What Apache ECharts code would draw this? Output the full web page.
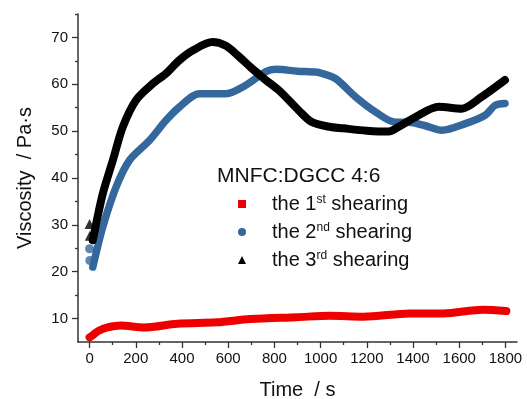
<!doctype html>
<html>
<head>
<meta charset="utf-8">
<script src="https://cdn.jsdelivr.net/npm/echarts@6/dist/echarts.min.js"></script>
<style>
    html, body { margin: 0; padding: 0; background: #fff; }
    #chart { width: 527px; height: 399px; }
</style>
</head>
<body>
<div id="chart"></div>
<script>
// tick labels
var xTicks = [0, 200, 400, 600, 800, 1000, 1200, 1400, 1600, 1800];
var xMinorTicks = [100, 300, 500, 700, 900, 1100, 1300, 1500, 1700];
var yTicks = [10, 20, 30, 40, 50, 60, 70];
var yMinorTicks = [15, 25, 35, 45, 55, 65, 75];

var seriesNames = ['the 1st shearing', 'the 2nd shearing', 'the 3rd shearing'];

// 1st shearing (red)
var t1 = [0, 15, 40, 78, 135, 236, 380, 552, 696, 898, 1041, 1186, 1387, 1531, 1703, 1804];
var v1 = [6.0, 6.5, 7.4, 8.1, 8.5, 8.1, 8.9, 9.2, 9.9, 10.3, 10.6, 10.4, 11.1, 11.1, 11.9, 11.6];

// 2nd shearing (blue)
var t2 = [14, 57, 115, 173, 259, 331, 388, 475, 590, 676, 763, 806, 900, 978, 1007, 1065, 1151, 1237, 1324, 1381, 1450, 1525, 1626, 1712, 1755, 1798];
var v2 = [21, 29.5, 38.1, 43.8, 48, 52.3, 55.1, 58.0, 58.0, 59.8, 62.7, 63.2, 62.8, 62.6, 62.3, 61.2, 57.3, 54.1, 51.9, 51.9, 51.2, 50.2, 51.6, 53.4, 55.5, 55.9];
var t2Start = [0, 1];
var v2Start = [24.9, 22.4];

// 3rd shearing (black)
var t3 = [14, 57, 101, 144, 201, 273, 331, 388, 450, 532, 590, 647, 700, 763, 820, 906, 960, 1030, 1100, 1200, 1295, 1340, 1410, 1511, 1611, 1697, 1798];
var v3 = [26.7, 36.6, 43.8, 50.9, 56.6, 60.1, 62.3, 65.1, 67.3, 69.0, 68.2, 65.9, 63.5, 60.9, 58.7, 54.4, 52.0, 51.0, 50.6, 50.1, 49.9, 51.0, 53.0, 55.2, 54.8, 57.3, 60.9];
var t3Start = [0, 1];
var v3Start = [30.2, 27.7];

var colors = ['#ee0000', '#34689c', '#000000'];

function pairs(t, v) {
    var out = [];
    for (var i = 0; i < t.length; i++) out.push([t[i], v[i]]);
    return out;
}

var myChart = echarts.init(document.getElementById('chart'));
var font = 'Liberation Sans, Arial, sans-serif';
var axisColor = '#333';

function xAxisCfg(ticks, len, main) {
    return {
        type: 'value', min: -50, max: 1850, position: 'bottom',
        name: main ? 'Time  / s' : '',
        nameLocation: 'middle', nameGap: 38,
        nameTextStyle: { fontFamily: font, fontSize: 20, color: '#111' },
        axisLine: { show: main, onZero: false, lineStyle: { color: axisColor, width: 1.5 } },
        axisTick: { show: true, customValues: ticks, length: len, lineStyle: { color: axisColor, width: 1.3 } },
        axisLabel: {
            show: main, customValues: ticks, margin: 9, fontFamily: font, fontSize: 15, color: '#111',
            formatter: function (v) { return String(v); }
        },
        splitLine: { show: false }
    };
}
function yAxisCfg(ticks, len, main) {
    return {
        type: 'value', min: 5, max: 75, position: 'left',
        name: main ? 'Viscosity  / Pa·s' : '',
        nameLocation: 'middle', nameGap: 43,
        nameTextStyle: { fontFamily: font, fontSize: 20, color: '#111' },
        axisLine: { show: main, onZero: false, lineStyle: { color: axisColor, width: 1.5 } },
        axisTick: { show: true, customValues: ticks, length: len, lineStyle: { color: axisColor, width: 1.3 } },
        axisLabel: { show: main, customValues: ticks, margin: 10, fontFamily: font, fontSize: 15, color: '#111' },
        splitLine: { show: false }
    };
}

var option = {
    animation: false,
    title: {
        text: 'MNFC:DGCC 4:6', left: 217, top: 166, padding: 0,
        textStyle: { fontFamily: font, fontSize: 21, fontWeight: 'normal', color: '#111' }
    },
    legend: {
        orient: 'vertical', left: 238, top: 194, padding: 0, itemGap: 8,
        itemWidth: 8, itemHeight: 8,
        data: [
            { name: seriesNames[0], icon: 'rect' },
            { name: seriesNames[1], icon: 'circle' },
            { name: seriesNames[2], icon: 'triangle' }
        ],
        formatter: function (name) {
            return name.replace(/(\d)(st|nd|rd)/, '$1{sup|$2}');
        },
        textStyle: {
            fontFamily: font, fontSize: 20, color: '#111', padding: [0, 0, 0, 21],
            rich: { sup: { fontFamily: font, fontSize: 12, verticalAlign: 'top', color: '#111' } }
        }
    },
    grid: { left: 78, right: 10, top: 14, bottom: 57, containLabel: false, outerBoundsMode: 'none' },
    xAxis: [xAxisCfg(xTicks, 6, true), xAxisCfg(xMinorTicks, 3, false)],
    yAxis: [yAxisCfg(yTicks, 6, true), yAxisCfg(yMinorTicks, 3, false)],
    series: [
        {
            name: seriesNames[0], type: 'line', smooth: 0.3, symbol: 'none',
            data: pairs(t1, v1), lineStyle: { color: colors[0], width: 8, cap: 'round' },
            itemStyle: { color: colors[0] }
        },
        {
            name: seriesNames[1], type: 'line', smooth: 0.3, symbol: 'none',
            data: pairs(t2, v2), lineStyle: { color: colors[1], width: 7.5, cap: 'round' },
            itemStyle: { color: colors[1] }
        },
        {
            name: seriesNames[1], type: 'scatter', symbol: 'circle', symbolSize: 9,
            data: pairs(t2Start, v2Start), itemStyle: { color: colors[1] }
        },
        {
            name: seriesNames[2], type: 'line', smooth: 0.3, symbol: 'none',
            data: pairs(t3, v3), lineStyle: { color: colors[2], width: 8, cap: 'round' },
            itemStyle: { color: colors[2] }
        },
        {
            name: seriesNames[2], type: 'scatter', symbol: 'triangle', symbolSize: 10,
            data: pairs(t3Start, v3Start), itemStyle: { color: colors[2] }
        }
    ]
};

myChart.setOption(option);
</script>
</body>
</html>
